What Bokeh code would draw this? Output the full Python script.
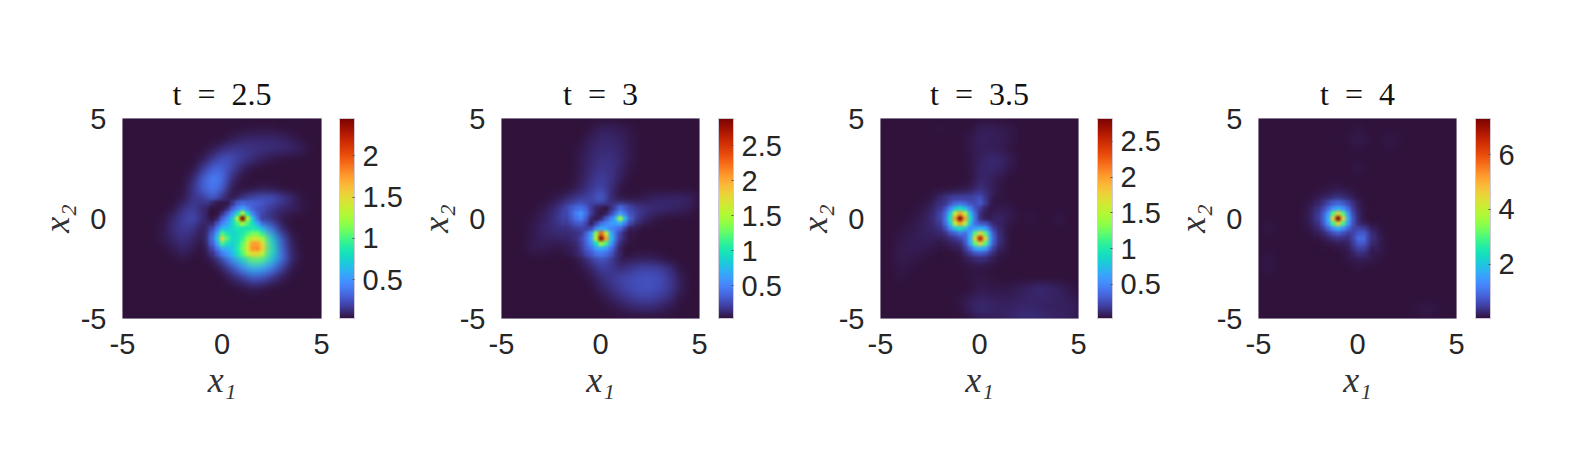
import numpy as np
from bokeh.embed import file_html
from bokeh.layouts import row
from bokeh.models import ColorBar, FixedTicker, LinearColorMapper, Range1d, Title
from bokeh.palettes import Turbo256
from bokeh.plotting import figure
from bokeh.resources import INLINE

# Field, in hundredths. Rows run top (x2=5) to bottom (x2=-5) in steps of 0.5,
# each row is (index of first non-background column, values); columns run x1=-5..5 in steps of 0.5.
P1_BASE = [(0, []), (13, [4, 4, 4]), (11, [6, 9, 10, 10, 10, 9, 6]), (9, [6, 11, 15, 15, 14, 13, 12, 11, 10, 7]),
           (8, [6, 16, 24, 22, 17, 12, 8, 5, 4]), (7, [4, 16, 30, 30, 20, 9, 4]), (7, [10, 28, 42, 35, 12, 4]),
           (6, [4, 14, 30, 38, 28, 6, 3, 4, 6, 5, 3]), (6, [5, 15, 17, 28, 12, 3, 15, 22, 26, 25, 18, 10, 4]),
           (5, [4, 13, 18, 10, 4, 3, 30, 55, 30, 22, 15, 10, 8, 5, 3]),
           (4, [4, 10, 18, 22, 12, 4, 30, 70, 245, 70, 18, 12, 5, 3]),
           (4, [5, 12, 17, 15, 5, 20, 65, 78, 85, 88, 60, 35, 10]),
           (4, [5, 10, 13, 10, 5, 32, 150, 78, 95, 140, 120, 70, 25, 6]),
           (5, [6, 10, 6, 3, 20, 58, 70, 110, 178, 155, 85, 30, 8]),
           (5, [3, 5, 3, 3, 8, 25, 50, 78, 110, 105, 70, 35, 10]),
           (10, [8, 22, 42, 60, 55, 38, 18, 5]), (11, [8, 15, 25, 22, 14, 6]), (12, [4, 6, 5]),
           (0, []), (0, []), (0, [])]
P2_BASE = [(10, [4, 4, 4]), (9, [5, 8, 8, 7, 5, 4]), (8, [4, 8, 11, 11, 9, 6, 4]), (8, [6, 10, 13, 13, 10, 6, 4]),
           (7, [4, 7, 11, 15, 15, 11, 6]), (8, [7, 13, 17, 16, 10, 5]), (8, [8, 15, 20, 16, 8, 4]),
           (7, [5, 10, 18, 24, 14, 5]), (4, [3, 5, 8, 15, 20, 22, 38, 12, 5, 5, 6, 9, 10, 10, 11, 9, 5]),
           (4, [6, 10, 18, 30, 42, 20, 8, 15, 40, 22, 17, 14, 12, 11, 9, 7, 4]),
           (3, [5, 8, 12, 20, 42, 50, 13, 12, 48, 145, 33, 14, 8, 5, 4]),
           (2, [3, 6, 10, 12, 15, 17, 22, 25, 70, 50, 38, 8, 4]),
           (2, [4, 6, 9, 9, 10, 12, 22, 65, 285, 80, 20, 5]),
           (2, [4, 7, 7, 6, 5, 8, 18, 42, 72, 42, 10, 4]),
           (2, [3, 4, 4, 3, 3, 3, 8, 20, 32, 20, 6, 7, 8, 8, 6, 3]),
           (8, [5, 10, 20, 18, 14, 18, 22, 22, 20, 14, 5]), (8, [3, 6, 13, 18, 22, 26, 28, 28, 26, 18, 8, 3]),
           (9, [4, 9, 14, 20, 25, 28, 28, 25, 18, 8, 3]), (10, [5, 9, 14, 18, 21, 21, 18, 12, 5]),
           (10, [3, 5, 7, 10, 11, 11, 9, 6, 3]), (11, [3, 3, 4, 4, 4, 3])]
P3_BASE = [(0, []), (6, [4, 3, 3, 3, 7, 7, 6, 5]), (9, [5, 8, 7, 7, 5]), (9, [5, 7, 7, 6, 4]), (9, [4, 8, 10, 10, 6]),
           (9, [4, 9, 10, 9, 5]), (10, [10, 8, 5]), (8, [4, 6, 14, 8, 4]), (5, [4, 10, 18, 20, 20, 28, 9, 4]),
           (4, [4, 8, 16, 48, 95, 52, 18, 5, 6, 5, 3]),
           (3, [4, 6, 10, 20, 95, 282, 95, 14, 6, 9, 6, 3, 5, 3, 3, 5, 3]),
           (2, [4, 5, 7, 9, 14, 48, 95, 52, 70, 35, 8, 3]), (2, [5, 6, 7, 7, 7, 12, 22, 70, 262, 70, 12, 3]),
           (2, [6, 6, 6, 5, 4, 5, 8, 35, 70, 35, 8]), (2, [6, 5, 4, 3, 3, 3, 4, 8, 12, 8, 4]),
           (2, [5, 4, 3, 3, 3, 3, 3, 4, 4]), (2, [4, 3, 3, 3, 3, 3, 3, 4, 5, 4]),
           (10, [6, 5, 5, 5, 7, 9, 11, 10, 8, 5]), (8, [4, 7, 9, 8, 7, 7, 8, 9, 9, 9, 8, 7, 5]),
           (8, [4, 8, 11, 10, 8, 9, 10, 10, 9, 8, 8, 8, 6]), (9, [4, 7, 7, 8, 10, 12, 13, 12, 10, 9, 8, 5])]
P4_BASE = [(0, []), (10, [4]), (9, [5, 10, 6, 3, 9, 5]), (10, [4, 2, 2, 4]), (0, []), (10, [8]), (0, []),
           (7, [4, 8, 5]), (6, [10, 22, 40, 22, 6, 2]), (5, [8, 30, 92, 170, 90, 18, 3]),
           (4, [3, 12, 40, 170, 733, 170, 24, 3]), (1, [8, 1, 1, 1, 6, 22, 85, 170, 85, 50, 32, 6]),
           (6, [6, 18, 35, 28, 90, 60, 14, 3]), (7, [3, 6, 14, 48, 32, 10, 2]),
           (1, [8, 1, 1, 1, 1, 1, 1, 1, 5, 15, 12, 4]), (1, [8, 1, 1, 1, 1, 1, 1, 1, 2, 4, 3]),
           (0, []), (0, []), (0, []), (16, [4, 8, 6]), (17, [6, 3])]

# Finer reading around the sharp peaks, in hundredths, steps of 0.25, rows top to bottom.
P1_FINE_X0, P1_FINE_Y0 = -0.5, 0.75
P1_FINE = [[10, 5, 5, 5, 15, 28, 33, 30, 30, 28, 25],
           [4, 4, 5, 12, 30, 42, 55, 42, 30, 25, 22],
           [3, 4, 14, 30, 50, 80, 125, 80, 42, 28, 20],
           [4, 10, 30, 45, 70, 130, 245, 130, 70, 35, 18],
           [10, 25, 42, 55, 75, 100, 130, 100, 80, 55, 32],
           [20, 38, 65, 65, 78, 85, 85, 85, 88, 82, 60],
           [28, 55, 100, 85, 75, 80, 88, 100, 110, 110, 90],
           [32, 70, 150, 100, 78, 80, 95, 120, 140, 140, 120],
           [28, 55, 100, 80, 72, 85, 105, 140, 175, 175, 145],
           [20, 38, 58, 62, 70, 88, 110, 145, 178, 180, 155],
           [13, 25, 38, 50, 62, 82, 102, 130, 150, 150, 130]]
P2_FINE_X0, P2_FINE_Y0 = -1.75, 0.5
P2_FINE = [[22, 30, 38, 42, 35, 20, 10, 8, 5, 15, 25, 40, 30, 22],
           [22, 34, 48, 58, 40, 20, 10, 5, 10, 25, 42, 60, 45, 27],
           [20, 30, 42, 50, 33, 13, 6, 12, 30, 48, 75, 145, 75, 33],
           [18, 24, 30, 33, 24, 8, 22, 40, 50, 60, 62, 70, 45, 22],
           [15, 17, 20, 22, 20, 25, 50, 70, 65, 50, 45, 38, 20, 8],
           [12, 14, 15, 18, 35, 60, 135, 230, 160, 70, 40, 22, 10, 5],
           [10, 12, 15, 22, 38, 65, 160, 285, 205, 80, 42, 20, 10, 5],
           [8, 10, 13, 20, 35, 55, 95, 150, 115, 60, 32, 14, 7, 5],
           [7, 8, 10, 18, 30, 42, 60, 72, 60, 42, 22, 10, 5, 4],
           [6, 7, 10, 15, 25, 32, 42, 45, 40, 30, 17, 10, 5, 5]]
P3_FINE_X0, P3_FINE_Y0 = -2.0, 1.0
P3_FINE = [[10, 14, 18, 20, 20, 20, 20, 22, 28, 16, 9, 5, 4],
           [12, 16, 26, 35, 40, 35, 28, 24, 30, 18, 8, 5, 4],
           [16, 26, 48, 75, 95, 75, 48, 28, 18, 9, 5, 5, 6],
           [20, 35, 75, 150, 200, 150, 75, 36, 14, 7, 5, 7, 7],
           [20, 40, 95, 200, 282, 200, 95, 40, 14, 7, 6, 8, 9],
           [17, 35, 75, 150, 200, 150, 75, 38, 30, 27, 18, 10, 8],
           [14, 24, 48, 75, 95, 75, 52, 60, 70, 60, 35, 18, 10],
           [10, 14, 24, 32, 42, 38, 62, 120, 175, 120, 60, 27, 11],
           [7, 9, 12, 17, 22, 32, 70, 175, 262, 175, 70, 30, 12],
           [5, 6, 8, 10, 12, 27, 60, 120, 175, 120, 60, 27, 11],
           [4, 4, 5, 6, 8, 18, 35, 60, 70, 60, 35, 18, 8],
           [3, 3, 3, 4, 5, 11, 18, 27, 30, 27, 18, 11, 5],
           [3, 3, 3, 3, 4, 6, 8, 11, 12, 11, 8, 6, 4]]
P4_FINE_X0, P4_FINE_Y0 = -2.0, 0.75
P4_FINE = [[20, 35, 55, 75, 85, 75, 55, 32, 15, 5, 2, 1],
           [30, 55, 92, 140, 170, 140, 90, 42, 18, 7, 3, 1],
           [38, 75, 140, 300, 460, 300, 140, 55, 22, 8, 3, 1],
           [40, 80, 170, 460, 733, 460, 170, 65, 24, 8, 3, 1],
           [32, 70, 140, 290, 450, 290, 140, 65, 28, 18, 12, 4],
           [22, 45, 85, 130, 170, 130, 85, 55, 50, 45, 32, 14],
           [12, 22, 40, 60, 75, 60, 45, 50, 72, 78, 55, 25],
           [6, 10, 18, 28, 35, 30, 28, 55, 92, 95, 55, 28],
           [3, 5, 8, 12, 15, 15, 20, 42, 72, 75, 48, 22],
           [2, 2, 3, 5, 6, 8, 14, 30, 48, 48, 32, 15],
           [1, 1, 2, 2, 3, 5, 8, 18, 28, 28, 20, 8]]

TITLES = ["t\u2002=\u20022.5", "t\u2002=\u20023", "t\u2002=\u20023.5", "t\u2002=\u20024"]
LOWS = [0.03, 0.03, 0.02, 0.01]
HIGHS = [2.45, 2.89, 2.82, 7.33]
BACKGROUNDS = [3, 3, 3, 1]
CB_TICKS = [[0.5, 1, 1.5, 2], [0.5, 1, 1.5, 2, 2.5], [0.5, 1, 1.5, 2, 2.5], [2, 4, 6]]
CB_LABELS = [["0.5", "1", "1.5", "2"], ["0.5", "1", "1.5", "2", "2.5"], ["0.5", "1", "1.5", "2", "2.5"], ["2", "4", "6"]]
AXIS_TICKS = [-5, 0, 5]
TICK_LABELS = ["-5", "0", "5"]

BASES = [P1_BASE, P2_BASE, P3_BASE, P4_BASE]
FINES = [(P1_FINE, P1_FINE_X0, P1_FINE_Y0), (P2_FINE, P2_FINE_X0, P2_FINE_Y0),
         (P3_FINE, P3_FINE_X0, P3_FINE_Y0), (P4_FINE, P4_FINE_X0, P4_FINE_Y0)]

WIDTHS = [412, 379, 378, 400]
LEFTS = [122, 88, 88, 88]
FRAME = 199
INK = "#262626"


def base_grid(rows, bg):
    arr = np.full((21, 21), float(bg))
    for i, (start, vals) in enumerate(rows):
        arr[i, start:start + len(vals)] = vals
    return np.flipud(arr) / 100.0


figs = []
for k in range(4):
    p = figure(width=WIDTHS[k], height=460, output_backend="svg", toolbar_location=None,
               x_range=Range1d(-5, 5), y_range=Range1d(-5, 5),
               min_border_left=LEFTS[k], min_border_right=WIDTHS[k] - LEFTS[k] - FRAME,
               min_border_top=118, min_border_bottom=460 - 118 - 200)
    mapper = LinearColorMapper(palette=Turbo256, low=LOWS[k], high=HIGHS[k])
    p.image(image=[base_grid(BASES[k], BACKGROUNDS[k])], x=-5.25, y=-5.25, dw=10.5, dh=10.5, color_mapper=mapper)
    fine, fx0, fy0 = FINES[k]
    arr = np.flipud(np.array(fine, dtype=float)) / 100.0
    ny, nx = arr.shape
    p.image(image=[arr], x=fx0 - 0.125, y=fy0 - (ny - 1) * 0.25 - 0.125, dw=nx * 0.25, dh=ny * 0.25, color_mapper=mapper)

    p.grid.visible = False
    p.background_fill_color = "#30123b"
    p.outline_line_color = "#cfc9d6"
    p.outline_line_width = 1
    p.add_layout(Title(text=TITLES[k], align="center", text_font="Liberation Serif", text_font_size="32px",
                       text_font_style="normal", text_color="#111111", standoff=13), "above")

    for ax in (p.xaxis[0], p.yaxis[0]):
        ax.axis_line_color = None
        ax.major_tick_line_color = None
        ax.minor_tick_line_color = None
        ax.ticker = FixedTicker(ticks=AXIS_TICKS)
        ax.major_label_overrides = dict(zip(AXIS_TICKS, TICK_LABELS))
        ax.major_label_text_font = "Liberation Sans"
        ax.major_label_text_font_size = "29px"
        ax.major_label_text_color = INK
        ax.axis_label_text_font = "Liberation Serif"
        ax.axis_label_text_font_style = "italic"
        ax.axis_label_text_font_size = "36px"
        ax.axis_label_text_color = "#333333"
    p.xaxis[0].major_label_standoff = 9
    p.xaxis[0].axis_label = "x\u2081"
    p.xaxis[0].axis_label_standoff = 3
    p.yaxis[0].major_label_standoff = 10
    p.yaxis[0].major_label_orientation = "horizontal"
    p.yaxis[0].axis_label = "x\u2082"
    p.yaxis[0].axis_label_standoff = 1

    cb = ColorBar(color_mapper=mapper, width=15, height=200, location=(217, 0), margin=0, padding=0,
                  ticker=FixedTicker(ticks=CB_TICKS[k]),
                  major_label_overrides=dict(zip(CB_TICKS[k], CB_LABELS[k])),
                  major_label_text_font="Liberation Sans", major_label_text_font_size="29px",
                  major_label_text_color=INK, label_standoff=8, major_tick_line_color="#555555",
                  major_tick_in=2, major_tick_out=0, minor_tick_line_color=None, bar_line_color="#cfc9d6",
                  background_fill_color=None, border_line_color=None)
    p.add_layout(cb)
    figs.append(p)

# The reference is a smoothly shaded surface: soften the cell edges of the SVG images in the browser.
SHADE = """<script>
function shadeImages(root) {
  root.querySelectorAll('*').forEach((el) => {
    if (el.tagName.toLowerCase() === 'image') {
      const w = parseFloat(el.getAttribute('width')) || 0;
      if (w > 30) el.style.filter = w >= 199 ? 'blur(4px)' : 'blur(1.8px)';
    }
    if (el.shadowRoot) shadeImages(el.shadowRoot);
  });
}
setInterval(() => shadeImages(document), 50);
</script>"""

html = file_html(row(*figs, spacing=0), INLINE)
open("out.html", "w").write(html.replace("</body>", SHADE + "</body>"))
